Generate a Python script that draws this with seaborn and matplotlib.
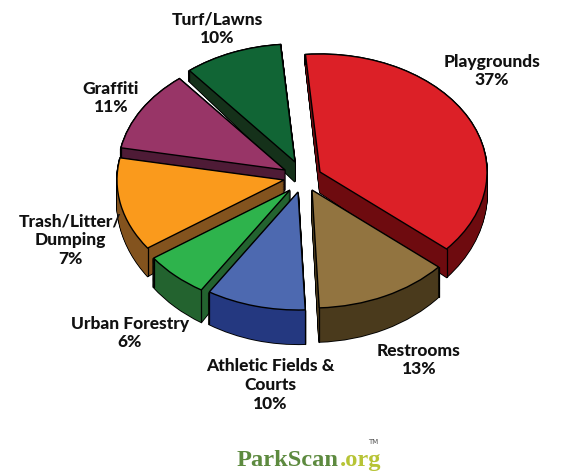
import matplotlib
matplotlib.use("Agg")
import matplotlib.pyplot as plt
from matplotlib.transforms import Affine2D
import numpy as np
import seaborn as sns

categories = ["Playgrounds", "Restrooms", "Athletic Fields &\nCourts", "Urban Forestry",
              "Trash/Litter/\nDumping", "Graffiti", "Turf/Lawns"]
printed_pct = ["37%", "13%", "10%", "6%", "7%", "11%", "10%"]
# wedge sizes as drawn (the Trash wedge is drawn much larger than its printed 7%)
drawn_share = [37.7, 13.0, 9.6, 6.3, 12.8, 11.1, 9.5]
top_hex = ["#DC2027", "#927440", "#4D69B0", "#2EB34C", "#FA9A1C", "#983567", "#116535"]
side_hex = ["#6E0B0F", "#4A3A1C", "#243880", "#23632F", "#83531E", "#4E1B36", "#15311A"]
draw_rank = [2, 6, 5, 4, 3, 1, 0]

W, H = 565, 473
CX, CY, RX, RY = 296.0, 180.0, 167.0, 118.0
DROP = 21.5 / RY
GROW = 0.0975
LAYERS = 34
# where each exploded wedge's tip sits, in picture pixels
tips_px = [(320, 172), (312, 190), (298, 192), (290, 190), (284, 180), (285, 170), (295, 162)]
centers = [((x - CX) / RX, (CY - y) / RY) for x, y in tips_px]

sns.set_theme(style="white")
plt.rcParams["font.family"] = ["Lato", "Liberation Sans", "DejaVu Sans"]
top_pal = sns.color_palette(top_hex)
side_pal = sns.color_palette(side_hex)

fig = plt.figure(figsize=(W / 100, H / 100), dpi=100, facecolor="white")
ax = fig.add_axes([0, 0, 1, 1])


def layer_tf(t):
    return Affine2D().scale(1, 1 + GROW * t).translate(0, -DROP * t) + ax.transData


def pie_layer(colors):
    w, _ = ax.pie(drawn_share, colors=colors, startangle=95,
                  counterclock=False, radius=1, normalize=True)
    for wd, c in zip(w, centers):
        wd.set_center(c)
    return w


for layer in range(LAYERS, 0, -1):
    t = layer / LAYERS
    for wedges, lw, dz in ((pie_layer(side_pal), 1.3, 0.0), (pie_layer(side_pal), 0, 0.2)):
        for i, wd in enumerate(wedges):
            wd.set_transform(layer_tf(t))
            wd.set_edgecolor("black" if lw else "none")
            wd.set_linewidth(lw)
            wd.set_zorder(10 * draw_rank[i] + 1 + dz)

top = pie_layer(top_pal)
for i, wd in enumerate(top):
    wd.set_edgecolor("black")
    wd.set_linewidth(1.0)
    wd.set_zorder(10 * draw_rank[i] + 3)
    cx, cy = wd.center
    for ang in (wd.theta1, wd.theta2):
        x = cx + np.cos(np.radians(ang))
        y = cy + np.sin(np.radians(ang))
        ax.plot([x, x], [y, y * (1 + GROW) - DROP], color="black", lw=0.9,
                zorder=10 * draw_rank[i] + 2)

ax.set_aspect("auto")
ax.set_xlim(-CX / RX, (W - CX) / RX)
ax.set_ylim((CY - H) / RY, CY / RY)
ax.axis("off")

label_xy = [(492, 71), (419, 360), (270, 385), (130, 333), (70, 240), (111, 98), (217, 29)]
for name, pct, (px, py) in zip(categories, printed_pct, label_xy):
    fig.text(px / W, 1 - py / H, f"{name}\n{pct}", ha="center", va="center", fontsize=12.5,
             fontweight="black", color="#111111", linespacing=1.2)

logo_main, logo_ext, logo_tm = "ParkScan", ".org", "TM"
t1 = fig.text(237 / W, 1 - 466 / H, logo_main, family="Liberation Serif", fontweight="bold",
              fontsize=17.6, color="#5D8A3F", ha="left", va="baseline")
end_px = t1.get_window_extent(fig.canvas.get_renderer()).x1
fig.text((end_px + 0.5) / W, 1 - 466 / H, logo_ext, family="Liberation Serif", fontweight="bold",
         fontsize=17.6, color="#B7C436", ha="left", va="baseline")
fig.text(373 / W, 1 - 442 / H, logo_tm, family="DejaVu Sans", fontsize=5,
         color="#555555", ha="center", va="center")

fig.savefig("out.png", dpi=100, facecolor="white")
